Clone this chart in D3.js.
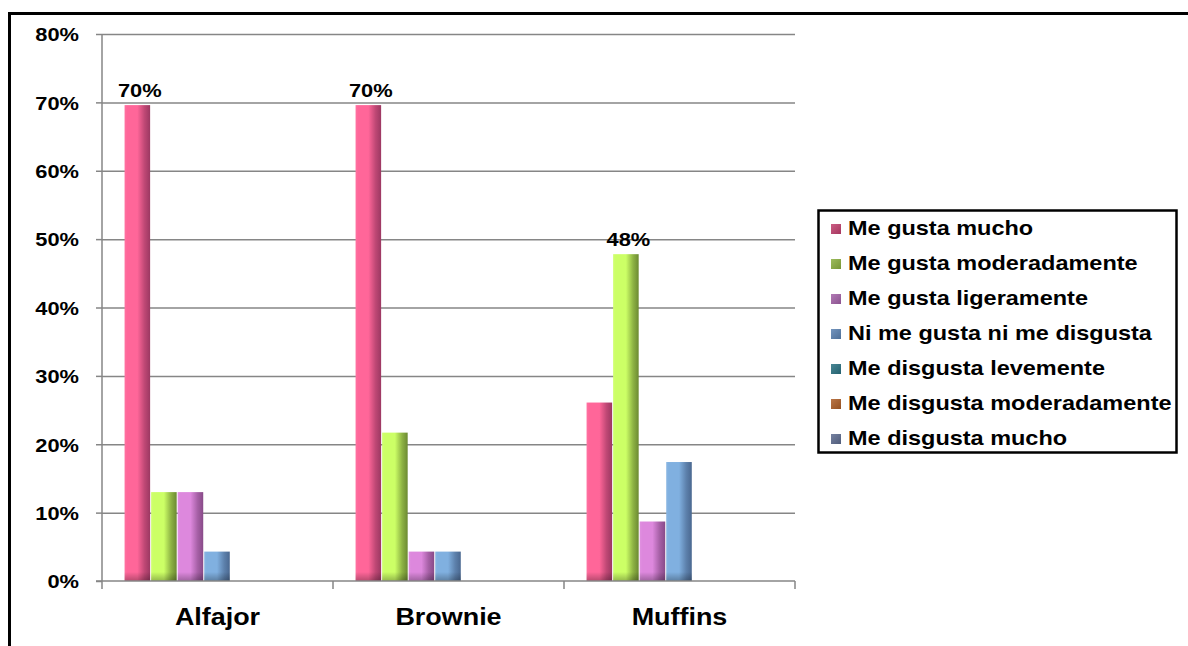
<!DOCTYPE html>
<html>
<head>
<meta charset="utf-8">
<script src="https://cdn.jsdelivr.net/npm/d3@7"></script>
<style>
  html, body { margin: 0; padding: 0; background: #ffffff; }
  svg { display: block; }
  text { font-family: "Liberation Sans", Arial, sans-serif; font-weight: bold; fill: #000; }
</style>
</head>
<body>
<svg id="chart" width="1188" height="646"></svg>
<script>
// Categories (products) and rating series
const categories = ["Alfajor", "Brownie", "Muffins"];
const seriesNames = [
  "Me gusta mucho",
  "Me gusta moderadamente",
  "Me gusta ligeramente",
  "Ni me gusta ni me disgusta",
  "Me disgusta levemente",
  "Me disgusta moderadamente",
  "Me disgusta mucho"
];

// Share of responses per category, one array per series
const meGustaMucho            = [0.696, 0.696, 0.261];
const meGustaModeradamente    = [0.130, 0.217, 0.478];
const meGustaLigeramente      = [0.130, 0.043, 0.087];
const niMeGustaNiMeDisgusta   = [0.043, 0.043, 0.174];
const meDisgustaLevemente     = [0, 0, 0];
const meDisgustaModeradamente = [0, 0, 0];
const meDisgustaMucho         = [0, 0, 0];
const seriesValues = [
  meGustaMucho, meGustaModeradamente, meGustaLigeramente, niMeGustaNiMeDisgusta,
  meDisgustaLevemente, meDisgustaModeradamente, meDisgustaMucho
];

const yTicks = [0, 0.1, 0.2, 0.3, 0.4, 0.5, 0.6, 0.7, 0.8];

// Bar colours: light face and shaded edge
const barLight = ["#FF6699", "#CCFF66", "#DD88DD", "#80B0E0", "#3A94A4", "#D77A3A", "#7A8AB0"];
const barDark  = ["#9C3862", "#6C8A32", "#884A88", "#4A6890", "#1E5A66", "#844016", "#46527A"];
// Legend swatch colours
const swatch   = ["#C2406E", "#8CB040", "#A462A8", "#5C82B2", "#2A7282", "#AE5E26", "#5E6C90"];

const svg = d3.select("#chart");
function widen(sel, k = 1.15) {
  sel.each(function () {
    const w = this.getComputedTextLength();
    this.setAttribute("textLength", (w * k).toFixed(1));
    this.setAttribute("lengthAdjust", "spacingAndGlyphs");
  });
}

// Outer frame
svg.append("rect")
  .attr("x", 9.5).attr("y", 13.5).attr("width", 1300).attr("height", 800)
  .attr("fill", "none").attr("stroke", "#000").attr("stroke-width", 3);

const plot = { left: 102, right: 795, top: 34, bottom: 581 };

const y = d3.scaleLinear().domain([0, 0.8]).range([plot.bottom, plot.top]);
const x0 = d3.scaleBand().domain(categories).range([plot.left, plot.right]).padding(0);
const x1 = d3.scaleBand().domain(d3.range(seriesNames.length))
  .range([0, x0.bandwidth()]).paddingInner(0).paddingOuter(0.85);

// Gradients for the shaded bars
const defs = svg.append("defs");
seriesNames.forEach((s, i) => {
  const g = defs.append("linearGradient").attr("id", "bar" + i)
    .attr("x1", 0).attr("x2", 1).attr("y1", 0).attr("y2", 0);
  g.append("stop").attr("offset", 0).attr("stop-color", d3.interpolateRgb(barLight[i], "#fff")(0.08));
  g.append("stop").attr("offset", 0.1).attr("stop-color", barLight[i]);
  g.append("stop").attr("offset", 0.5).attr("stop-color", barLight[i]);
  g.append("stop").attr("offset", 0.78).attr("stop-color", d3.interpolateRgb(barLight[i], barDark[i])(0.65));
  g.append("stop").attr("offset", 1).attr("stop-color", barDark[i]);
  const s2 = defs.append("linearGradient").attr("id", "sw" + i)
    .attr("x1", 0).attr("x2", 1).attr("y1", 0).attr("y2", 1);
  s2.append("stop").attr("offset", 0).attr("stop-color", d3.interpolateRgb(swatch[i], "#fff")(0.15));
  s2.append("stop").attr("offset", 1).attr("stop-color", d3.interpolateRgb(swatch[i], "#000")(0.15));
});
const foot = defs.append("linearGradient").attr("id", "barFoot")
  .attr("x1", 0).attr("x2", 0).attr("y1", 0).attr("y2", 1);
foot.append("stop").attr("offset", 0).attr("stop-color", "#000").attr("stop-opacity", 0);
foot.append("stop").attr("offset", 1).attr("stop-color", "#000").attr("stop-opacity", 0.28);

// Horizontal gridlines
const gridAxis = d3.axisLeft(y).tickValues(yTicks.slice(1))
  .tickSize(-(plot.right - plot.left)).tickFormat("");
svg.append("g").attr("transform", `translate(${plot.left},0)`).call(gridAxis)
  .call(g => g.select(".domain").remove())
  .call(g => g.selectAll("line").attr("stroke", "#868686").attr("stroke-width", 1.5));

// Y axis with percentage labels
const yAxis = d3.axisLeft(y).tickValues(yTicks).tickSize(6).tickPadding(17)
  .tickFormat(d3.format(".0%"));
const yG = svg.append("g").attr("transform", `translate(${plot.left},0)`).call(yAxis);
yG.select(".domain").remove();
yG.selectAll("line").attr("stroke", "#868686").attr("stroke-width", 1.5);
yG.selectAll("text").attr("font-size", 19).attr("font-family", null)
  .attr("dy", "0.36em").call(widen);
svg.append("line").attr("x1", plot.left).attr("x2", plot.left)
  .attr("y1", plot.top).attr("y2", plot.bottom + 8)
  .attr("stroke", "#868686").attr("stroke-width", 1.5);

// Bars
const groups = svg.append("g").selectAll("g").data(categories).join("g")
  .attr("transform", d => `translate(${x0(d)},0)`);
groups.each(function (cat, ci) {
  const g = d3.select(this);
  const rows = seriesNames.map((s, si) => ({ si, v: seriesValues[si][ci] })).filter(r => r.v > 0);
  g.selectAll("rect.bar").data(rows).join("rect").attr("class", "bar")
    .attr("x", r => x1(r.si)).attr("width", x1.bandwidth() - 1)
    .attr("y", r => y(r.v)).attr("height", r => y(0) - y(r.v))
    .attr("fill", r => `url(#bar${r.si})`);
  g.selectAll("rect.foot").data(rows).join("rect").attr("class", "foot")
    .attr("x", r => x1(r.si)).attr("width", x1.bandwidth() - 1)
    .attr("y", r => y(0) - Math.min(9, y(0) - y(r.v))).attr("height", r => Math.min(9, y(0) - y(r.v)))
    .attr("fill", "url(#barFoot)");
  // Value label on the highest bar of the category
  const top = rows.reduce((a, b) => (b.v > a.v ? b : a));
  g.append("text").attr("x", x1(top.si) + x1.bandwidth() / 2 + 2)
    .attr("y", y(top.v) - 8).attr("text-anchor", "middle").attr("font-size", 19)
    .text(d3.format(".0%")(top.v)).call(widen);
});

// Category axis
svg.append("line").attr("x1", plot.left - 6).attr("x2", plot.right)
  .attr("y1", plot.bottom).attr("y2", plot.bottom)
  .attr("stroke", "#868686").attr("stroke-width", 1.5);
const bounds = categories.map(c => x0(c) + x0.bandwidth()).slice(0, -1).concat([plot.right]);
svg.append("g").selectAll("line").data(bounds).join("line")
  .attr("x1", d => d).attr("x2", d => d).attr("y1", plot.bottom).attr("y2", plot.bottom + 8)
  .attr("stroke", "#868686").attr("stroke-width", 1.5);
svg.append("g").selectAll("text").data(categories).join("text")
  .attr("x", d => x0(d) + x0.bandwidth() / 2).attr("y", 625)
  .attr("text-anchor", "middle").attr("font-size", 23).text(d => d).call(widen, 1.17);

// Legend
const lg = svg.append("g");
lg.append("rect").attr("x", 818.5).attr("y", 210.5).attr("width", 358).attr("height", 242)
  .attr("fill", "#fff").attr("stroke", "#000").attr("stroke-width", 2.5);
const items = lg.selectAll("g.item").data(seriesNames).join("g").attr("class", "item")
  .attr("transform", (d, i) => `translate(0,${235 + i * 35})`);
items.append("rect").attr("x", 831).attr("y", -11).attr("width", 10).attr("height", 10)
  .attr("fill", (d, i) => `url(#sw${i})`);
items.append("text").attr("x", 848).attr("y", 0).attr("font-size", 20.5)
  .text(d => d).call(widen, 1.145);
</script>
</body>
</html>
